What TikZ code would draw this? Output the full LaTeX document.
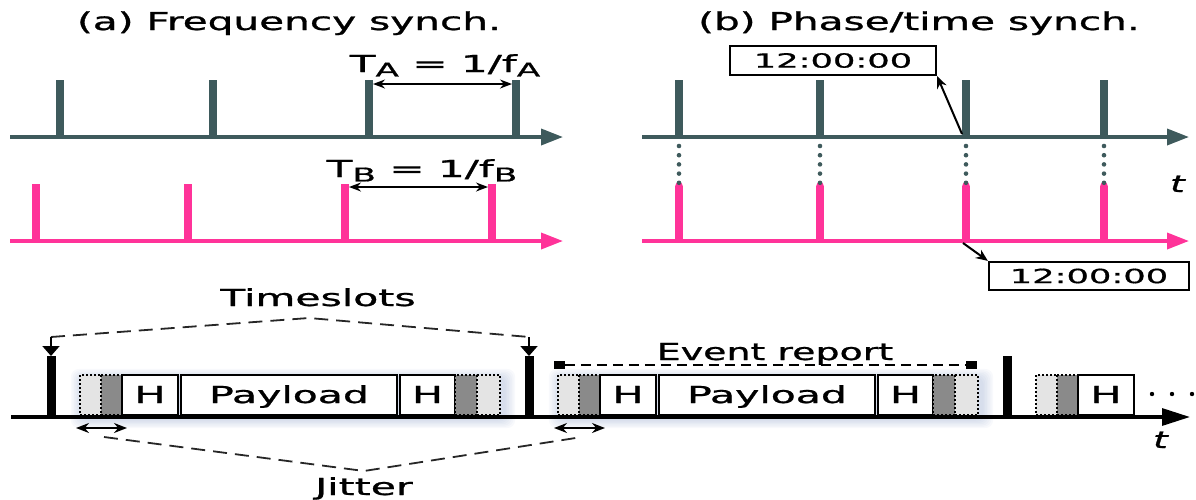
\documentclass[tikz,border=0pt]{standalone}
\usepackage{fontspec}
\setmainfont{DejaVu Sans}[BoldFont={DejaVu Sans}, BoldFeatures={FakeBold=0.8},
  BoldItalicFont={DejaVu Sans Oblique}, BoldItalicFeatures={FakeBold=0.8}]
\usepackage{graphicx}
\usetikzlibrary{arrows.meta}
\definecolor{slate}{RGB}{62,90,92}
\definecolor{hot}{RGB}{255,51,153}
\definecolor{lgray}{RGB}{228,228,228}
\definecolor{dgray}{RGB}{138,138,138}
\definecolor{halo}{RGB}{140,160,200}
\newcommand{\wt}[2][1.75]{\scalebox{#1}[1]{#2}}
\newcommand{\pshadow}[1]{%
  \foreach \k in {1,...,7}{%
    \fill[halo, opacity=0.06, rounded corners=4pt]
      ({#1+29-\k*1.6+2},{375-\k*1.3+3}) rectangle ({#1+449+\k*1.6+4},{415+\k*1.3+4});}}
\newcommand{\jbox}[1]{%
  \fill[lgray] ({#1+29},375) rectangle ({#1+51},415);
  \draw[dotb] ({#1+29},375) rectangle ({#1+51},415);
  \fill[dgray] ({#1+50},375) rectangle ({#1+71},415);
  \draw[dotb] ({#1+50},375) rectangle ({#1+71},415);}
\newcommand{\pkt}[2]{%
  \jbox{#1}
  \draw[pbox] ({#1+71},375) rectangle ({#1+127},415);
  \node[lbl] (#2h1) at ({#1+99},403) {\wt{H}};
  \draw[pbox] ({#1+130},375) rectangle ({#1+346},415);
  \node[lbl] (#2pl) at ({#1+238},403) {\wt{Payload}};
  \draw[pbox] ({#1+349},375) rectangle ({#1+404},415);
  \node[lbl] (#2h2) at ({#1+376.5},403) {\wt{H}};
  \fill[dgray] ({#1+404},375) rectangle ({#1+426},415);
  \draw[dotb] ({#1+404},375) rectangle ({#1+426},415);
  \fill[lgray] ({#1+426},375) rectangle ({#1+449},415);
  \draw[dotb] ({#1+426},375) rectangle ({#1+449},415);}
\begin{document}
\begin{tikzpicture}[x=0.5pt,y=-0.5pt,
  ttl/.style={font=\bfseries\fontsize{12.3}{14}\selectfont, anchor=base, inner sep=0pt},
  lbl/.style={font=\bfseries\fontsize{11.7}{13}\selectfont, anchor=base, inner sep=0pt},
  axisA/.style={slate, line width=1.8pt, -{Triangle[length=11pt,width=8pt]}},
  axisP/.style={hot, line width=1.8pt, -{Triangle[length=11pt,width=8pt]}},
  axisK/.style={black, line width=1.6pt, -{Triangle[length=14pt,width=8.5pt]}},
  pulseA/.style={slate, line width=3.8pt},
  pulseP/.style={hot, line width=3.8pt},
  dimarr/.style={black, line width=0.8pt, {Stealth[length=6pt,width=4.5pt]}-{Stealth[length=6pt,width=4.5pt]}},
  ptr/.style={black, line width=1pt, -{Stealth[length=6pt,width=5pt]}},
  dotc/.style={slate, line width=2.3pt, line cap=round, dash pattern=on 0pt off 4.6pt},
  tbox/.style={draw=black, line width=1.1pt, fill=white, inner sep=0pt, font=\bfseries\fontsize{9.8}{12}\selectfont},
  bar/.style={black, line width=4.5pt},
  tsarr/.style={black, line width=0.9pt, -{Triangle[length=5pt,width=8.5pt]}},
  dashl/.style={black!85, line width=0.9pt, dash pattern=on 7pt off 4pt},
  erdash/.style={black, line width=0.9pt, dash pattern=on 5pt off 3pt},
  sq/.style={fill=black, inner sep=0pt, minimum width=5.5pt, minimum height=4pt},
  jarr/.style={black, line width=0.9pt, {Stealth[length=6.5pt,width=5pt]}-{Stealth[length=6.5pt,width=5pt]}},
  pbox/.style={draw=black, fill=white, line width=1.1pt},
  dotb/.style={black, line width=0.9pt, dash pattern=on 1pt off 1pt}
]
\useasboundingbox (0,0) rectangle (1196,499);

% ---------- titles
\node[ttl] (titA) at (289,30) {\wt[1.65]{(a) Frequency synch.}};
\node[ttl] (titB) at (919,30) {\wt[1.65]{(b) Phase/time synch.}};

% ---------- panel (a)
\coordinate (aAs) at (10,137); \coordinate (aAe) at (563,137);
\draw[axisA] (aAs) -- (aAe);
\foreach \x/\n in {60/1,213/2,369/3,516/4}{\draw[pulseA] (\x,137) -- (\x,80) coordinate (pa\n);}
\coordinate (taL) at (373,84); \coordinate (taR) at (512,84);
\draw[dimarr] (taL) -- (taR);
\node[lbl] (tA) at (445,72) {\wt[1.8]{T\raisebox{-0.35ex}{\fontsize{9.5}{10}\selectfont A} = 1/f\raisebox{-0.35ex}{\fontsize{9.5}{10}\selectfont A}}};

\coordinate (aPs) at (10,241); \coordinate (aPe) at (563,241);
\draw[axisP] (aPs) -- (aPe);
\foreach \x/\n in {36/1,188/2,345/3,492/4}{\draw[pulseP] (\x,241) -- (\x,184) coordinate (pp\n);}
\coordinate (tbL) at (349,187); \coordinate (tbR) at (488,187);
\draw[dimarr] (tbL) -- (tbR);
\node[lbl] (tB) at (422,177) {\wt[1.8]{T\raisebox{-0.35ex}{\fontsize{9.5}{10}\selectfont B} = 1/f\raisebox{-0.35ex}{\fontsize{9.5}{10}\selectfont B}}};

% ---------- panel (b)
\coordinate (bAs) at (642,137); \coordinate (bAe) at (1189,137);
\draw[axisA] (bAs) -- (bAe);
\coordinate (bPs) at (642,241); \coordinate (bPe) at (1189,241);
\draw[axisP] (bPs) -- (bPe);
\foreach \x/\n in {679/1,820/2,966/3,1104/4}{
  \draw[pulseA] (\x,137) -- (\x,80) coordinate (qa\n);
  \draw[pulseP] (\x,241) -- (\x,186) coordinate (qp\n);
  \fill[hot] (\x,186) circle (1.9pt);
  \coordinate (qd\n) at (\x,146);
  \coordinate (qe\n) at (\x,183);
  \draw[dotc] (qd\n) -- (qe\n);
}
\node[lbl] (tlab) at (1178,192) {\wt[1.6]{\textit{t}}};
\node[tbox, minimum width=103pt, minimum height=14.5pt] (clk1) at (833,60.5) {\wt[1.8]{12:00:00}};
\node[tbox, minimum width=100pt, minimum height=14pt] (clk2) at (1089,276) {\wt[1.8]{12:00:00}};
\coordinate (clkA) at (962,134);
\coordinate (clkB) at (963,243);
\draw[ptr] (clkA) -- (clk1.south east);
\draw[ptr] (clkB) -- (clk2.north west);

% ---------- bottom panel
\pshadow{51}
\pshadow{529}
\pkt{51}{p1}
\pkt{529}{p2}
\jbox{1007}
\draw[pbox] (1078,375) rectangle (1134,415);
\node[lbl] (p3h1) at (1106,403) {\wt{H}};

\coordinate (kS) at (11,417); \coordinate (kE) at (1190,417);
\draw[axisK] (kS) -- (kE);
\foreach \x/\n in {51/1,529/2,1007/3}{\draw[bar] (\x,417) -- (\x,356) coordinate (bar\n);}

% timeslots
\node[lbl] (tsl) at (318,306) {\wt{Timeslots}};
\coordinate (tsA) at (309,318);
\coordinate (tsL) at (51,337);
\coordinate (tsR) at (529,337);
\draw[dashl] (tsL) -- (tsA) -- (tsR);
\draw[tsarr] (tsL) -- (bar1);
\draw[tsarr] (tsR) -- (bar2);

% event report
\node[sq] (er1) at (559,365) {};
\node[sq] (er2) at (971,365) {};
\draw[erdash] (er1) -- (er2);
\node[lbl] (ert) at (775,360) {\wt[1.62]{Event report}};

% jitter
\coordinate (j1a) at (76,428); \coordinate (j1b) at (127,428);
\coordinate (j2a) at (554,428); \coordinate (j2b) at (605,428);
\draw[jarr] (j1a) -- (j1b);
\draw[jarr] (j2a) -- (j2b);
\coordinate (jL) at (104,437); \coordinate (jA) at (364,471); \coordinate (jR) at (582,437);
\draw[dashl] (jL) -- (jA) -- (jR);
\node[lbl] (jit) at (364,495) {\wt{Jitter}};

% continuation dots and t
\foreach \x/\n in {1152/1,1172/2,1192/3}{\fill (\x,394) circle (1.1pt) coordinate (dt\n);}
\node[lbl] (tlab2) at (1161,448) {\wt[1.6]{\textit{t}}};
\end{tikzpicture}
\end{document}
